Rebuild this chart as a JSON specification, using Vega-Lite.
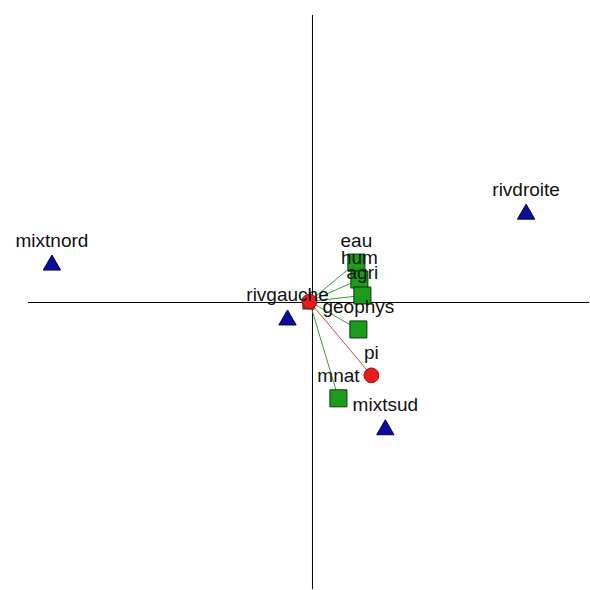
{
  "$schema": "https://vega.github.io/schema/vega-lite/v6.json",
  "width": 590,
  "height": 590,
  "autosize": {"type": "fit", "contains": "padding"},
  "padding": 0,
  "background": "white",
  "config": {"view": {"stroke": null}},
  "datasets": {
    "axes": [
      {"x": 0, "y": 2.88, "x2": 0, "y2": -2.87},
      {"x": -2.85, "y": 0, "x2": 2.77, "y2": 0}
    ],
    "links": [
      {"name": "eau", "x0": -0.03, "y0": 0.01, "x": 0.44, "y": 0.40, "kind": "var"},
      {"name": "hum", "x0": -0.03, "y0": 0.01, "x": 0.47, "y": 0.23, "kind": "var"},
      {"name": "agri", "x0": -0.03, "y0": 0.01, "x": 0.50, "y": 0.07, "kind": "var"},
      {"name": "geophys", "x0": -0.03, "y0": 0.01, "x": 0.46, "y": -0.27, "kind": "var"},
      {"name": "mnat", "x0": -0.03, "y0": 0.01, "x": 0.26, "y": -0.96, "kind": "var"},
      {"name": "pi", "x0": -0.03, "y0": 0.01, "x": 0.59, "y": -0.73, "kind": "sup"}
    ],
    "points": [
      {"name": "mixtnord", "x": -2.61, "y": 0.40, "kind": "site"},
      {"name": "rivdroite", "x": 2.14, "y": 0.91, "kind": "site"},
      {"name": "rivgauche", "x": -0.25, "y": -0.15, "kind": "site"},
      {"name": "mixtsud", "x": 0.73, "y": -1.25, "kind": "site"},
      {"name": "eau", "x": 0.44, "y": 0.40, "kind": "var"},
      {"name": "hum", "x": 0.47, "y": 0.23, "kind": "var"},
      {"name": "agri", "x": 0.50, "y": 0.07, "kind": "var"},
      {"name": "geophys", "x": 0.46, "y": -0.27, "kind": "var"},
      {"name": "mnat", "x": 0.26, "y": -0.96, "kind": "var"},
      {"name": "pi", "x": 0.59, "y": -0.73, "kind": "sup"},
      {"name": "", "x": -0.04, "y": -0.01, "kind": "centersq"},
      {"name": "", "x": -0.03, "y": 0.01, "kind": "center"}
    ]
  },
  "layer": [
    {
      "data": {"name": "axes"},
      "mark": {"type": "rule", "color": "black", "strokeWidth": 1},
      "encoding": {
        "x": {"field": "x", "type": "quantitative", "scale": {"domain": [-3.13, 2.77], "nice": false, "zero": false}, "axis": null},
        "y": {"field": "y", "type": "quantitative", "scale": {"domain": [-2.87, 3.03], "nice": false, "zero": false}, "axis": null},
        "x2": {"field": "x2"},
        "y2": {"field": "y2"}
      }
    },
    {
      "data": {"name": "links"},
      "mark": {"type": "rule", "strokeWidth": 1},
      "encoding": {
        "x": {"field": "x0", "type": "quantitative"},
        "y": {"field": "y0", "type": "quantitative"},
        "x2": {"field": "x"},
        "y2": {"field": "y"},
        "color": {"field": "kind", "type": "nominal", "scale": {"domain": ["var", "sup"], "range": ["#3a9a3a", "#d04848"]}, "legend": null}
      }
    },
    {
      "data": {"name": "points"},
      "transform": [{"filter": "datum.kind == 'site'"}],
      "mark": {"type": "point", "shape": "triangle-up", "filled": true, "color": "#0c0c9a", "stroke": "#000050", "strokeWidth": 1, "size": 300, "opacity": 1},
      "encoding": {
        "x": {"field": "x", "type": "quantitative"},
        "y": {"field": "y", "type": "quantitative"}
      }
    },
    {
      "data": {"name": "points"},
      "transform": [{"filter": "datum.kind == 'var'"}],
      "mark": {"type": "square", "filled": true, "color": "#1c9c1c", "stroke": "#0a3a0a", "strokeWidth": 1, "size": 290, "opacity": 1},
      "encoding": {
        "x": {"field": "x", "type": "quantitative"},
        "y": {"field": "y", "type": "quantitative"}
      }
    },
    {
      "data": {"name": "points"},
      "transform": [{"filter": "datum.kind == 'centersq'"}],
      "mark": {"type": "square", "filled": true, "color": "#6a3a2a", "size": 150, "opacity": 1},
      "encoding": {
        "x": {"field": "x", "type": "quantitative"},
        "y": {"field": "y", "type": "quantitative"}
      }
    },
    {
      "data": {"name": "points"},
      "transform": [{"filter": "datum.kind == 'sup' || datum.kind == 'center'"}],
      "mark": {"type": "circle", "color": "#e81c1c", "stroke": "#a01010", "strokeWidth": 1, "size": 220, "opacity": 1},
      "encoding": {
        "x": {"field": "x", "type": "quantitative"},
        "y": {"field": "y", "type": "quantitative"}
      }
    },
    {
      "data": {"name": "points"},
      "mark": {"type": "text", "font": "Liberation Sans", "fontSize": 19, "color": "#111111", "dy": -16, "align": "center", "baseline": "alphabetic"},
      "encoding": {
        "x": {"field": "x", "type": "quantitative"},
        "y": {"field": "y", "type": "quantitative"},
        "text": {"field": "name"}
      }
    }
  ]
}
